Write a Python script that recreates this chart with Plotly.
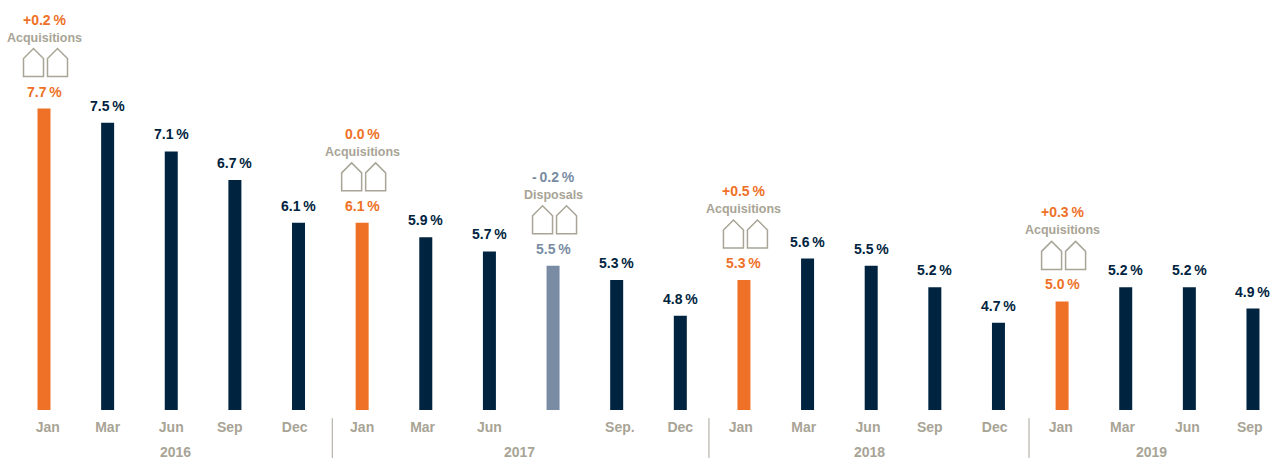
import plotly.graph_objects as go

months = ["Jan","Mar","Jun","Sep","Dec","Jan","Mar","Jun","","Sep.","Dec","Jan","Mar","Jun","Sep","Dec","Jan","Mar","Jun","Sep"]
values = [7.7,7.5,7.1,6.7,6.1,6.1,5.9,5.7,5.5,5.3,4.8,5.3,5.6,5.5,5.2,4.7,5.0,5.2,5.2,4.9]
value_labels = ["7.7\u2009%","7.5\u2009%","7.1\u2009%","6.7\u2009%","6.1\u2009%","6.1\u2009%","5.9\u2009%","5.7\u2009%","5.5\u2009%","5.3\u2009%","4.8\u2009%","5.3\u2009%","5.6\u2009%","5.5\u2009%","5.2\u2009%","4.7\u2009%","5.0\u2009%","5.2\u2009%","5.2\u2009%","4.9\u2009%"]
kinds = ["a","n","n","n","n","a","n","n","d","n","n","a","n","n","n","n","a","n","n","n"]
events = {0:("+0.2\u2009%","Acquisitions"),5:("0.0\u2009%","Acquisitions"),8:("-\u20090.2\u2009%","Disposals"),11:("+0.5\u2009%","Acquisitions"),16:("+0.3\u2009%","Acquisitions")}
years = ["2016","2017","2018","2019"]
year_pos = [2.07,7.47,12.97,17.4]
separators = [4.53,10.45,15.48]
tick_nudge = [0.06,0,0,-0.08,-0.06,0,-0.05,0,0,0.05,0,-0.05,-0.06,-0.05,-0.08,-0.06,-0.02,-0.05,-0.03,-0.05]

NAVY="#002340"; ORANGE="#EE7127"; SLATE="#7A8CA3"; TAUPE="#A8A496"
color = {"a":ORANGE,"n":NAVY,"d":SLATE}
FONT="Liberation Sans, Arial, sans-serif"

x = list(range(len(values)))
fig = go.Figure(go.Bar(x=x,y=values,width=13/63.63,marker=dict(color=[color[k] for k in kinds],line_width=0),hoverinfo="skip"))

ann=[]
for i,(v,l,k) in enumerate(zip(values,value_labels,kinds)):
    ann.append(dict(x=i,y=v,text=f"<b>{l}</b>",showarrow=False,yanchor="middle",yshift=17,
                    font=dict(family=FONT,size=14,color=color[k])))
shapes=[]
for i,(top,name) in events.items():
    c=color[kinds[i]]
    ann.append(dict(x=i,y=values[i],text=f"<b>{top}</b>",showarrow=False,yanchor="middle",yshift=89,font=dict(family=FONT,size=14,color=c)))
    ann.append(dict(x=i,y=values[i],text=f"<b>{name}</b>",showarrow=False,yanchor="middle",yshift=71,font=dict(family=FONT,size=12.5,color=TAUPE)))
    for off in (-20.5,3.5):
        shapes.append(dict(type="path",xsizemode="pixel",ysizemode="pixel",xref="x",yref="y",xanchor=i,yanchor=values[i],
            path=f"M {off},32 L {off},50 L {off+10},60 L {off+20},50 L {off+20},32 Z",
            line=dict(color=TAUPE,width=1.5),fillcolor="rgba(0,0,0,0)"))
for xp,t in zip(year_pos,years):
    ann.append(dict(x=xp,y=0,yref="paper",yanchor="middle",yshift=-42,text=f"<b>{t}</b>",showarrow=False,font=dict(family=FONT,size=14,color=TAUPE)))
for s in separators:
    shapes.append(dict(type="line",x0=s,x1=s,yref="paper",y0=-0.02,y1=-0.117,line=dict(color=TAUPE,width=1)))

fig.update_layout(width=1282,height=460,margin=dict(l=0,r=0,t=0,b=50),plot_bgcolor="white",paper_bgcolor="white",
    showlegend=False,annotations=ann,shapes=shapes,
    xaxis=dict(range=[-0.6915,19.456],tickmode="array",tickvals=[i+n for i,n in zip(x,tick_nudge)],ticktext=[f"<b>{m}</b>" if m else "" for m in months],
               showgrid=False,zeroline=False,showline=False,ticks="",ticklabelstandoff=7,tickfont=dict(family=FONT,size=14,color=TAUPE)),
    yaxis=dict(range=[3.48,9.22],visible=False))
fig.write_html("out.html",config=dict(displayModeBar=False),post_script="document.body.style.margin='0';document.body.style.overflow='hidden';")
